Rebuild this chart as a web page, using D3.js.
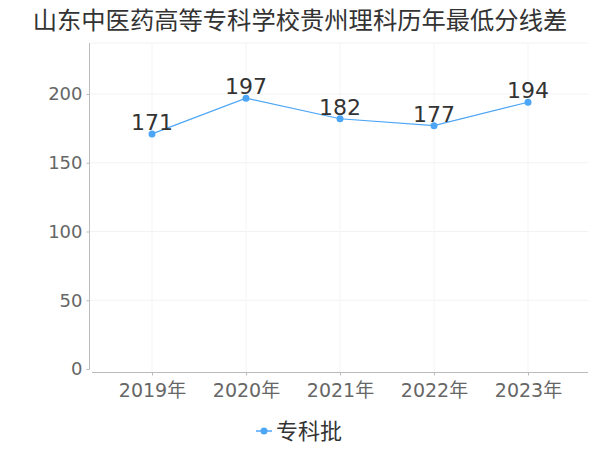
<!DOCTYPE html>
<html><head><meta charset="utf-8">
<script src="https://cdn.jsdelivr.net/npm/d3@7"></script>
<style>body{margin:0;background:#fff}svg{display:block;font-family:"DejaVu Sans","Noto Sans CJK SC",sans-serif}</style>
</head><body><svg id="c" width="600" height="450"></svg>
<script>
const title = "山东中医药高等专科学校贵州理科历年最低分线差";
const categories = ["2019年","2020年","2021年","2022年","2023年"];
const values = [171,197,182,177,194];
const seriesName = "专科批";
const yTicks = [0,50,100,150,200];

const svg = d3.select("#c");
const color = "#4da6f5";
const x = d3.scalePoint().domain(categories).range([152,528]);
const y = d3.scaleLinear().domain([0,200]).range([369,94]);
const plotTop = 43;

svg.append("text").attr("x",300).attr("y",29).attr("text-anchor","middle")
  .attr("font-family","'Noto Sans CJK SC',sans-serif")
  .attr("font-size",24.3).attr("fill","#333").text(title);

// grid
svg.append("g").selectAll("line").data(yTicks.slice(1)).join("line")
  .attr("x1",90).attr("x2",588).attr("y1",d=>y(d)).attr("y2",d=>y(d))
  .attr("stroke","#f2f2f2");
svg.append("line").attr("x1",90).attr("x2",588).attr("y1",plotTop).attr("y2",plotTop).attr("stroke","#f2f2f2");
svg.append("g").selectAll("line").data(categories).join("line")
  .attr("x1",d=>x(d)).attr("x2",d=>x(d)).attr("y1",plotTop).attr("y2",372)
  .attr("stroke","#f4f4f4");

// y axis
svg.append("line").attr("x1",89.5).attr("x2",89.5).attr("y1",plotTop).attr("y2",369).attr("stroke","#bbb");
const ya = svg.append("g").attr("transform","translate(89.5,0)")
  .call(d3.axisLeft(y).tickValues(yTicks).tickSize(3).tickPadding(4));
ya.select(".domain").remove();
ya.selectAll("line").attr("stroke","#bbb");
ya.selectAll("text").attr("font-size",18).attr("fill","#666").attr("font-family","'DejaVu Sans',sans-serif");

// x axis
svg.append("line").attr("x1",92).attr("x2",588).attr("y1",372.5).attr("y2",372.5).attr("stroke","#bbb");
const xa = svg.append("g").attr("transform","translate(0,372.5)")
  .call(d3.axisBottom(x).tickSize(3).tickPadding(8));
xa.select(".domain").remove();
xa.selectAll("line").attr("stroke","#bbb");
xa.selectAll("text").attr("font-size",19).attr("fill","#666").attr("font-family","'DejaVu Sans','Noto Sans CJK SC',sans-serif");

// line
const line = d3.line().x((d,i)=>x(categories[i])).y(d=>y(d));
svg.append("path").datum(values).attr("d",line).attr("fill","none").attr("stroke",color).attr("stroke-width",1.2);
svg.append("g").selectAll("circle").data(values).join("circle")
  .attr("cx",(d,i)=>x(categories[i])).attr("cy",d=>y(d)).attr("r",3.5).attr("fill",color);
svg.append("g").selectAll("text").data(values).join("text")
  .attr("x",(d,i)=>x(categories[i])).attr("y",d=>y(d)-4).attr("text-anchor","middle")
  .attr("font-size",22).attr("fill","#333").attr("font-family","'DejaVu Sans',sans-serif").text(d=>d);

// legend
const lg = svg.append("g");
lg.append("line").attr("x1",256).attr("x2",272).attr("y1",431).attr("y2",431).attr("stroke",color).attr("stroke-width",1.5);
lg.append("circle").attr("cx",264).attr("cy",431).attr("r",3.5).attr("fill",color);
lg.append("text").attr("x",276).attr("y",439).attr("font-size",22).attr("fill","#333")
  .attr("font-family","'Noto Sans CJK SC',sans-serif").text(seriesName);
</script></body></html>
